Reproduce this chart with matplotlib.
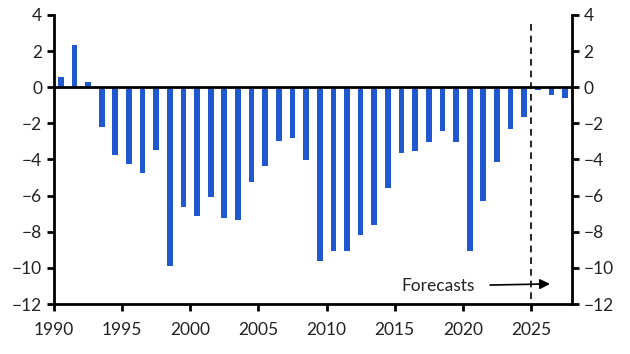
import matplotlib.pyplot as plt
import numpy as np

plt.rcParams['font.family'] = ['Lato', 'DejaVu Sans']

years = list(range(1990, 2028))
values = [0.58, 2.35, 0.27, -2.22, -3.74, -4.24, -4.77, -3.46, -9.92, -6.65,
          -7.15, -6.10, -7.21, -7.37, -5.27, -4.38, -3.00, -2.83, -4.05, -9.64,
          -9.04, -9.04, -8.20, -7.65, -5.60, -3.66, -3.55, -3.05, -2.45, -3.05,
          -9.04, -6.32, -4.16, -2.34, -1.67, -0.16, -0.45, -0.62]
forecast_start = 2025

fig = plt.figure(figsize=(6.3, 3.54), dpi=100)
ax = fig.add_axes([0.0857, 0.141, 0.822, 0.817])

x = np.array(years) + 0.5
ax.bar(x, values, width=0.42, color='#2059CF', zorder=2)
ax.axhline(0, color='black', lw=2, zorder=3)
ax.plot([forecast_start, forecast_start], [3.5, -12], color='black', lw=1.2,
        ls=(0, (4, 3)), zorder=3)

ax.annotate('', xy=(2026.6, -10.88), xytext=(2021.8, -10.95),
            arrowprops=dict(arrowstyle='-|>', color='black', lw=1.2,
                            mutation_scale=15))
ax.text(2020.9, -11.0, 'Forecasts', ha='right', va='center', fontsize=12.5,
        color='#222222')

ax.set_xlim(1990, 2028)
ax.set_ylim(-12, 4)
ax.set_xticks(range(1990, 2030, 5))
ax.set_yticks(range(-12, 5, 2))
ax.spines['top'].set_visible(False)
for s in ['left', 'right', 'bottom']:
    ax.spines[s].set_linewidth(2)
ax.tick_params(axis='both', direction='out', width=2, length=5, labelsize=12.5,
               labelcolor='#222222')
ax.tick_params(axis='x', pad=8)
ax.tick_params(axis='y', left=True, right=True, labelleft=True, labelright=True)

fig.savefig('out.png', dpi=100)
